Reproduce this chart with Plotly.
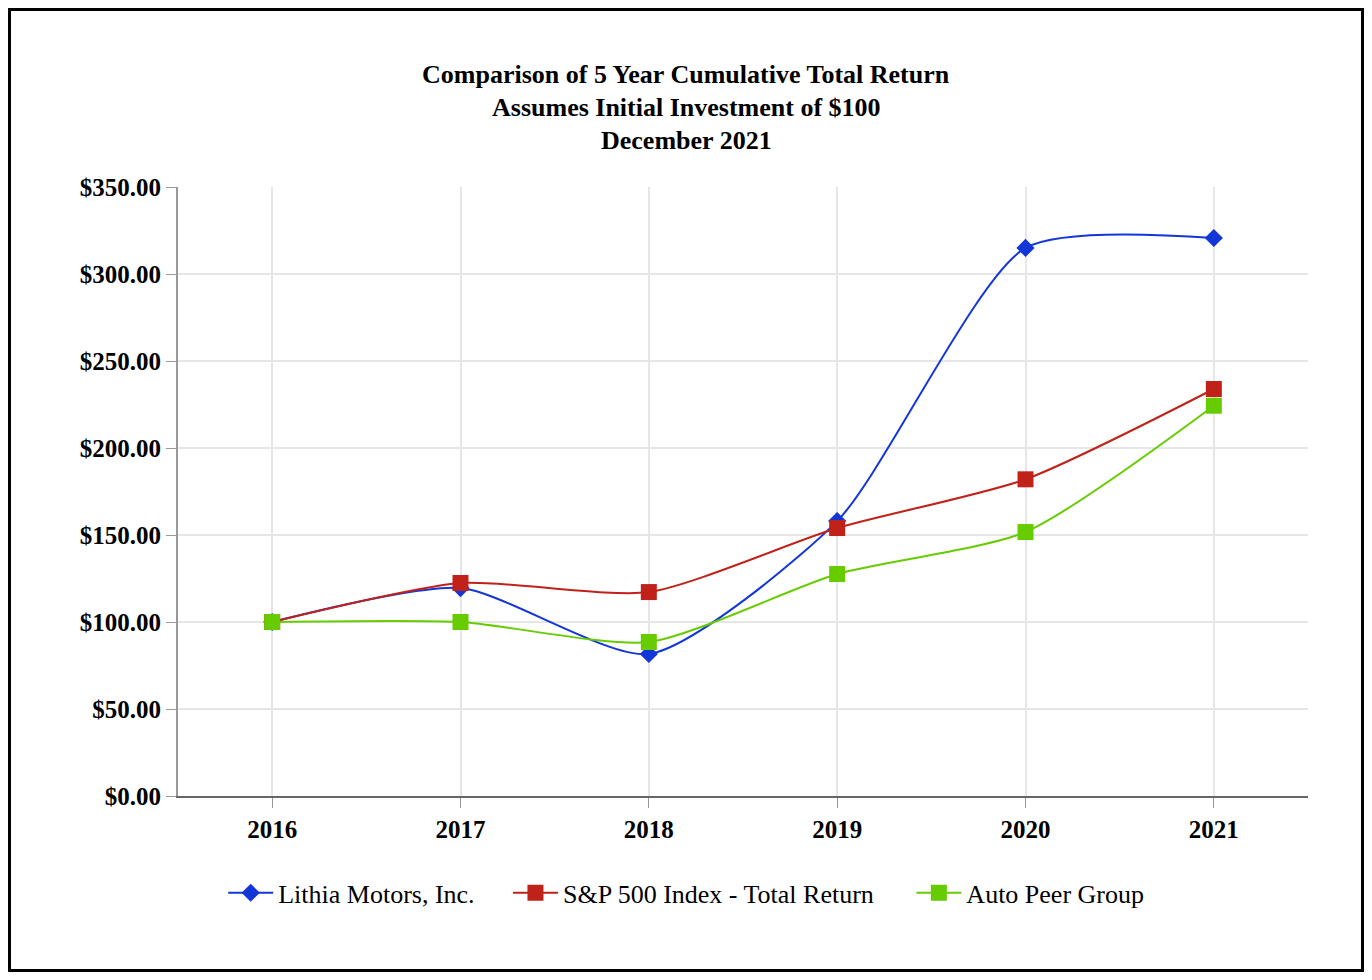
import plotly.graph_objects as go

years = ["2016", "2017", "2018", "2019", "2020", "2021"]
lithia = [100.0, 119.5, 81.6, 158.0, 315.0, 320.7]
sp500 = [100.0, 122.4, 117.2, 154.0, 182.0, 233.9]
autoPeer = [100.0, 100.0, 88.5, 127.6, 151.7, 224.3]

yTicks = [0, 50, 100, 150, 200, 250, 300, 350]
yTickText = ["$%.2f" % v for v in yTicks]

serif = "Liberation Serif, Times New Roman, serif"
smooth = 0.65

# page has an 8px body margin, so the figure is a bit smaller than the window
W, H = 1356, 964
L, R, T, B = 170, 56, 179, 176
pw, ph = W - L - R, H - T - B

fig = go.Figure()
fig.add_trace(go.Scatter(x=years, y=lithia, mode="lines+markers",
                         name="Lithia Motors, Inc.", legend="legend",
                         line=dict(color="#1336d8", width=2, shape="spline", smoothing=smooth),
                         marker=dict(symbol="diamond", size=14, color="#1336d8")))
fig.add_trace(go.Scatter(x=years, y=sp500, mode="lines+markers",
                         name="S&P 500 Index - Total Return", legend="legend2",
                         line=dict(color="#c0221a", width=2, shape="spline", smoothing=smooth),
                         marker=dict(symbol="square", size=16, color="#c0221a")))
fig.add_trace(go.Scatter(x=years, y=autoPeer, mode="lines+markers",
                         name="Auto Peer Group", legend="legend3",
                         line=dict(color="#66cc00", width=2, shape="spline", smoothing=smooth),
                         marker=dict(symbol="square", size=16, color="#66cc00")))

# title lines, placed one by one
titleLines = ["Comparison of 5 Year Cumulative Total Return",
              "Assumes Initial Investment of $100",
              "December 2021"]
titleY = [1.184, 1.130, 1.077]
for txt, yy in zip(titleLines, titleY):
    fig.add_annotation(text="<b>" + txt + "</b>", xref="paper", yref="paper",
                       x=0.4496, y=yy, xanchor="center", yanchor="middle", showarrow=False,
                       font=dict(family=serif, size=26, color="black"))

# outer frame
fig.add_shape(type="rect", xref="paper", yref="paper",
              x0=(1.5 - L) / pw, x1=(W - 1.5 - L) / pw,
              y0=(H - B - (H - 1.5)) / ph, y1=(H - B - 1.5) / ph,
              line=dict(color="black", width=3))

def legendAt(xp):
    return dict(orientation="h", x=xp, xanchor="left", y=-0.159, yanchor="middle",
                font=dict(family=serif, size=26, color="black"),
                itemwidth=45, bgcolor="rgba(0,0,0,0)")

fig.update_layout(
    width=W, height=H,
    margin=dict(l=L, r=R, t=T, b=B),
    paper_bgcolor="white", plot_bgcolor="white",
    showlegend=True,
    legend=legendAt(0.040),
    legend2=legendAt(0.292),
    legend3=legendAt(0.649),
    xaxis=dict(range=[-0.5, 5.5], showgrid=True, gridcolor="#e6e6e6", gridwidth=1.5,
               showline=True, linecolor="#666666", linewidth=2,
               ticks="outside", ticklen=10, tickcolor="#999999",
               tickfont=dict(family=serif, size=25, color="black"),
               tickprefix="<b>", ticksuffix="</b>"),
    yaxis=dict(range=[0, 350], tickvals=yTicks,
               ticktext=["<b>" + t + "</b>" for t in yTickText],
               showgrid=True, gridcolor="#e6e6e6", gridwidth=1.5, zeroline=False,
               showline=True, linecolor="#999999", linewidth=2,
               ticks="outside", ticklen=10, tickcolor="#999999",
               tickfont=dict(family=serif, size=25, color="black")),
)

fig.write_html("out.html")
